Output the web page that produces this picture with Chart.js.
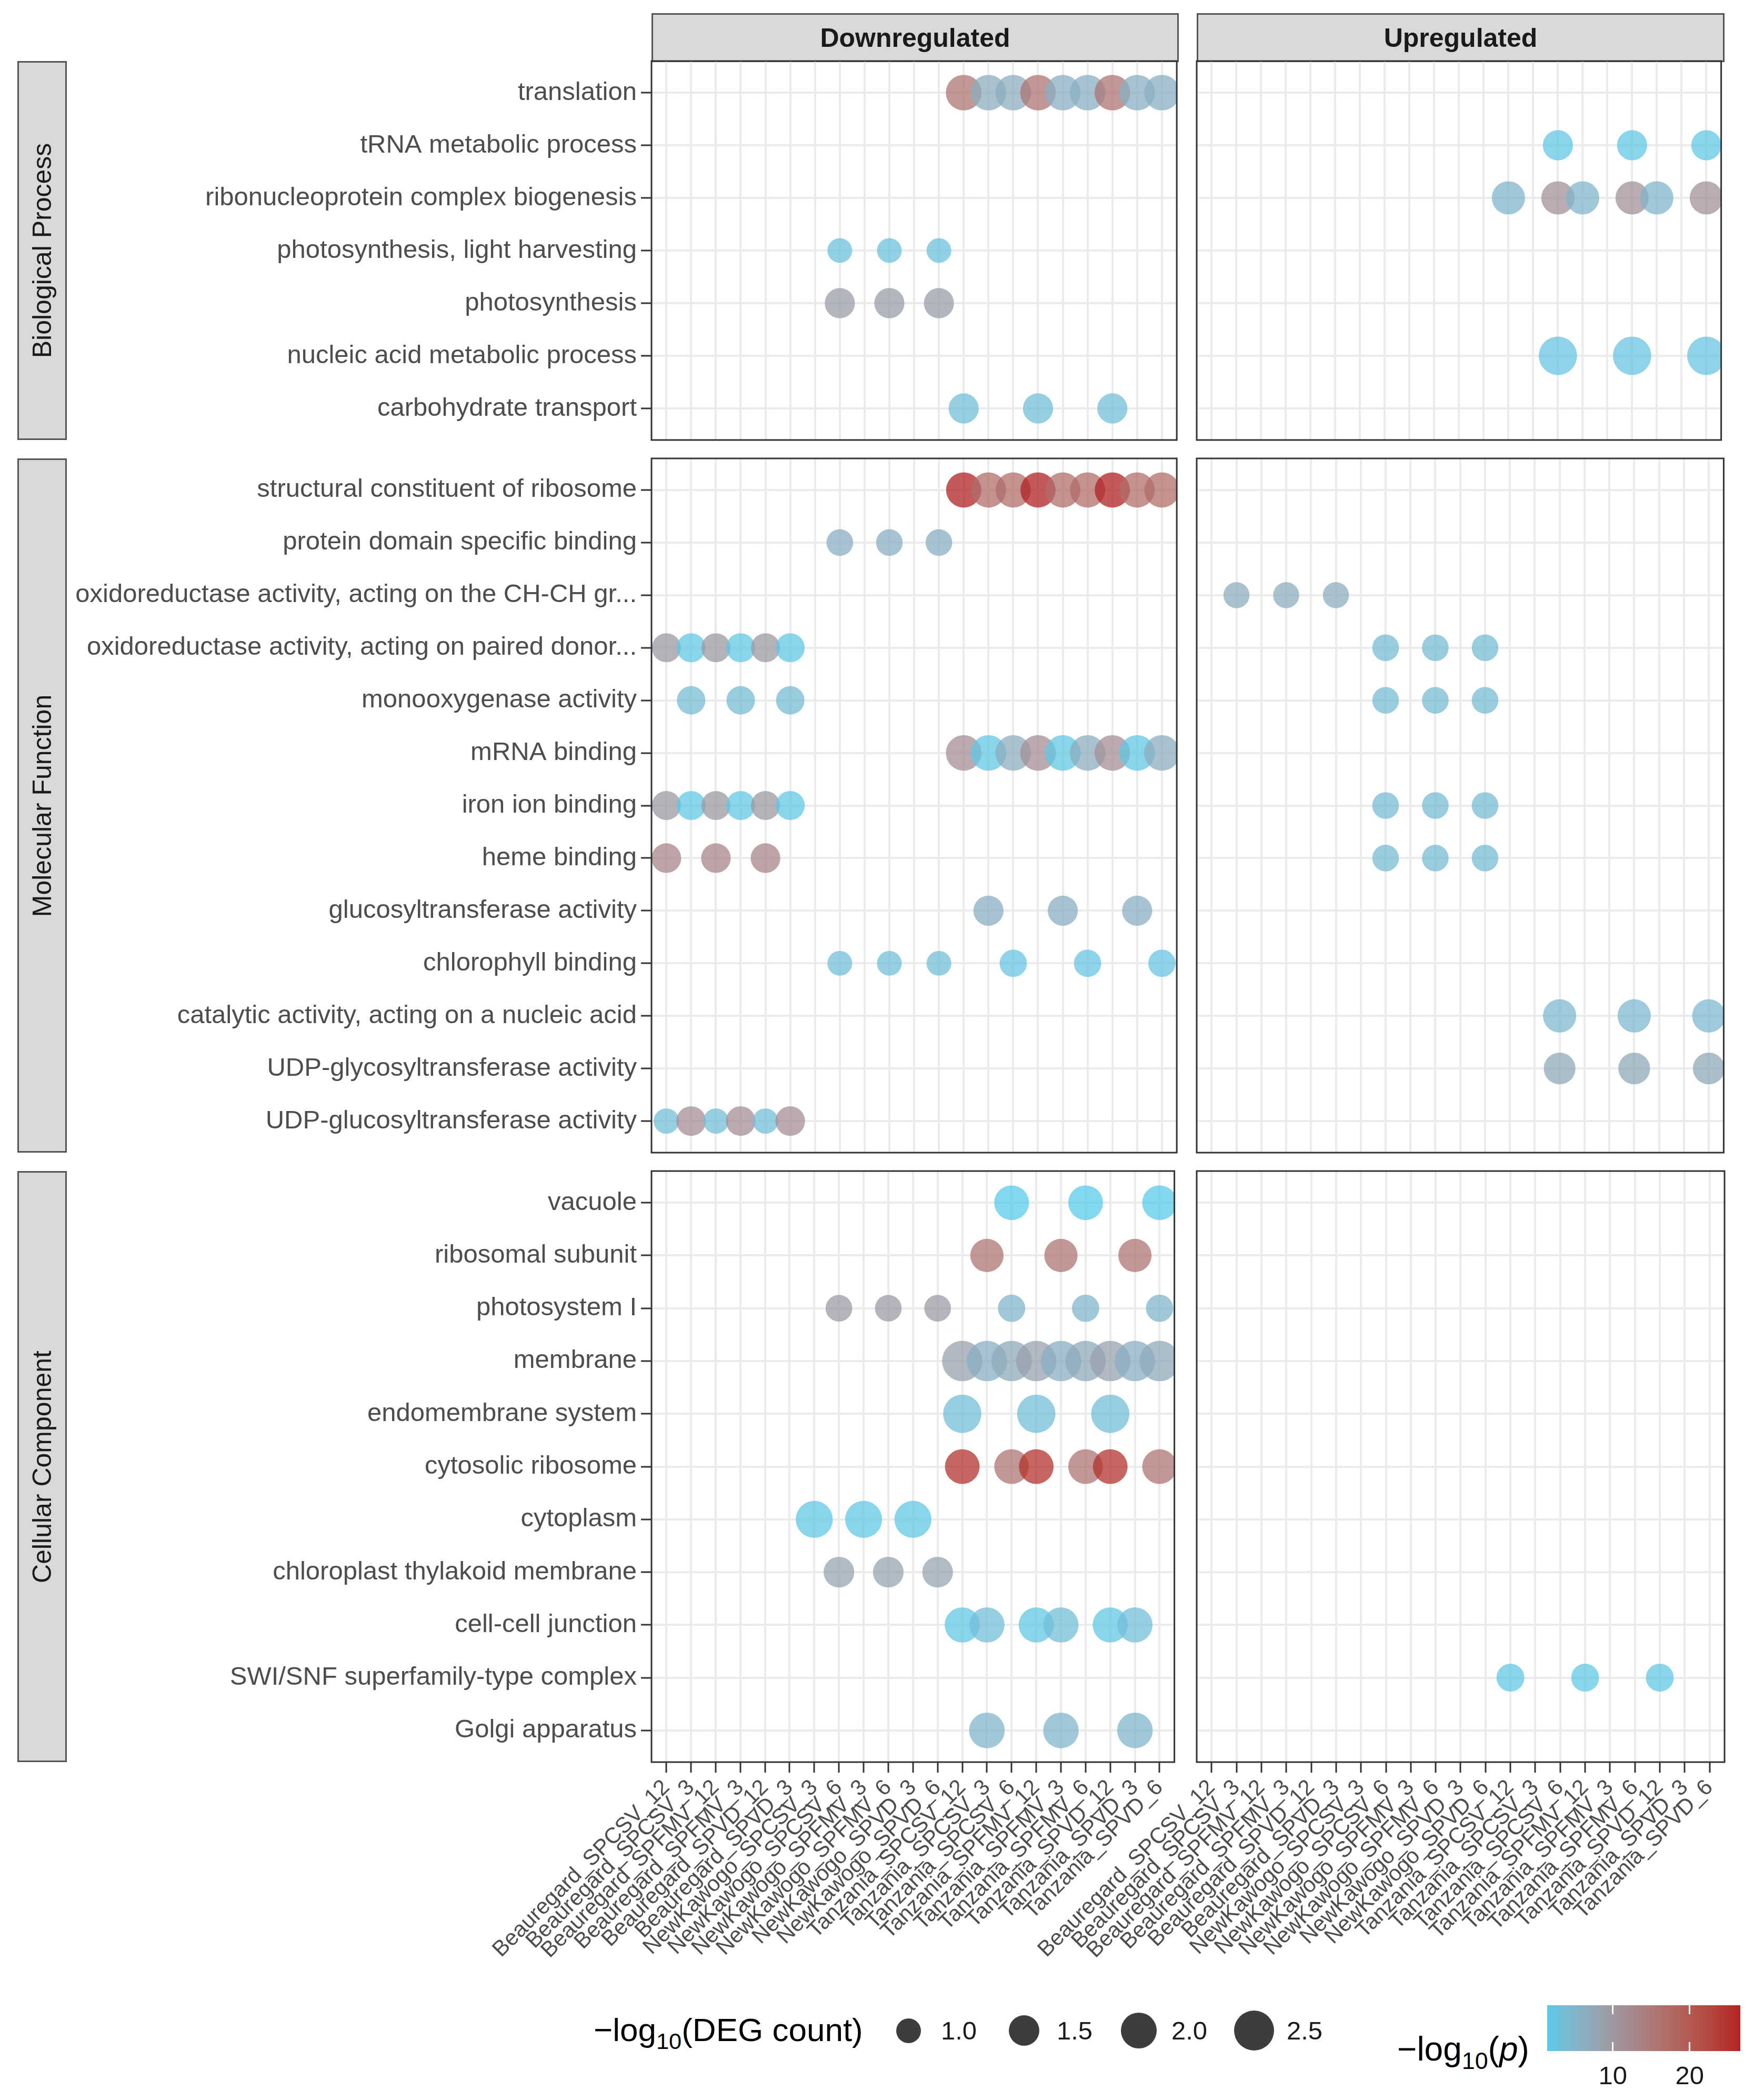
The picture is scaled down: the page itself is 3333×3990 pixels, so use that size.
<!DOCTYPE html>
<html>
<head>
<meta charset="utf-8">
<script src="https://cdn.jsdelivr.net/npm/chart.js@4.4.1/dist/chart.umd.min.js"></script>
<style>
  body { margin: 0; background: #fff; }
  #page { position: relative; width: 3333px; height: 3990px; font-family: "Liberation Sans", Arial, sans-serif; overflow: hidden; }
  .strip { position: absolute; background: #d9d9d9; border: 3px solid #555; box-sizing: border-box; display: flex; align-items: center; justify-content: center; color: #1a1a1a; font-size: 50px; }
  .strip.col { font-weight: bold; }
  .strip.row span { transform: rotate(-90deg); white-space: nowrap; }
  .lg { position: absolute; white-space: nowrap; color: #000; }
  sub { font-size: 0.7em; vertical-align: -0.35em; }
</style>
</head>
<body>
<div id="page"></div>
<script>
const samples = [
    "Beauregard_SPCSV_12", "Beauregard_SPCSV_3", "Beauregard_SPFMV_12", "Beauregard_SPFMV_3",
    "Beauregard_SPVD_12", "Beauregard_SPVD_3", "NewKawogo_SPCSV_3", "NewKawogo_SPCSV_6",
    "NewKawogo_SPFMV_3", "NewKawogo_SPFMV_6", "NewKawogo_SPVD_3", "NewKawogo_SPVD_6",
    "Tanzania_SPCSV_12", "Tanzania_SPCSV_3", "Tanzania_SPCSV_6", "Tanzania_SPFMV_12",
    "Tanzania_SPFMV_3", "Tanzania_SPFMV_6", "Tanzania_SPVD_12", "Tanzania_SPVD_3", "Tanzania_SPVD_6"
];

const bpTerms = [
    "translation", "tRNA metabolic process", "ribonucleoprotein complex biogenesis",
    "photosynthesis, light harvesting", "photosynthesis", "nucleic acid metabolic process",
    "carbohydrate transport"
];
const mfTerms = [
    "structural constituent of ribosome", "protein domain specific binding",
    "oxidoreductase activity, acting on the CH-CH gr...", "oxidoreductase activity, acting on paired donor...",
    "monooxygenase activity", "mRNA binding", "iron ion binding", "heme binding",
    "glucosyltransferase activity", "chlorophyll binding", "catalytic activity, acting on a nucleic acid",
    "UDP-glycosyltransferase activity", "UDP-glucosyltransferase activity"
];
const ccTerms = [
    "vacuole", "ribosomal subunit", "photosystem I", "membrane", "endomembrane system",
    "cytosolic ribosome", "cytoplasm", "chloroplast thylakoid membrane", "cell-cell junction",
    "SWI/SNF superfamily-type complex", "Golgi apparatus"
];

// [term index, sample index, -log10(DEG count), -log10(p)]
const bpDown = [
    [0,12,2.0,16],[0,13,2.0,6.5],[0,14,2.0,6.5],[0,15,2.0,16],[0,16,2.0,6],[0,17,2.0,6],[0,18,2.0,16],[0,19,2.0,6],[0,20,2.0,6],
    [3,7,1.0,3],[3,9,1.0,3],[3,11,1.0,3],
    [4,7,1.45,9],[4,9,1.45,9],[4,11,1.45,9],
    [6,12,1.45,3.5],[6,15,1.45,3.5],[6,18,1.45,3.5]
];
const bpUp = [
    [1,14,1.45,2],[1,17,1.45,2],[1,20,1.45,2],
    [2,12,1.75,5],[2,14,1.75,11],[2,15,1.75,5],[2,17,1.75,11],[2,18,1.75,5],[2,20,1.75,11],
    [5,14,2.3,2.5],[5,17,2.3,2.5],[5,20,2.3,2.5]
];
const mfDown = [
    [0,12,1.95,26.6],[0,13,1.95,17],[0,14,1.95,17],[0,15,1.95,26.6],[0,16,1.95,17],[0,17,1.95,17],[0,18,1.95,26.6],[0,19,1.95,17],[0,20,1.95,17],
    [1,7,1.15,6],[1,9,1.15,6],[1,11,1.15,6],
    [3,0,1.35,10],[3,1,1.35,2],[3,2,1.35,10],[3,3,1.35,2],[3,4,1.35,10],[3,5,1.35,2],
    [4,1,1.3,4],[4,3,1.3,4],[4,5,1.3,4],
    [5,12,2.0,11.5],[5,13,2.0,2],[5,14,2.0,6.5],[5,15,2.0,11.5],[5,16,2.0,2],[5,17,2.0,6.5],[5,18,2.0,11.5],[5,19,2.0,2],[5,20,2.0,6.5],
    [6,0,1.35,10],[6,1,1.35,2],[6,2,1.35,10],[6,3,1.35,2],[6,4,1.35,10],[6,5,1.35,2],
    [7,0,1.4,13],[7,2,1.4,13],[7,4,1.4,13],
    [8,13,1.45,6],[8,16,1.45,6],[8,19,1.45,6],
    [9,7,1.0,3.5],[9,9,1.0,3.5],[9,11,1.0,3.5],[9,14,1.2,2.5],[9,17,1.2,2.5],[9,20,1.2,2.5],
    [12,0,1.05,3.5],[12,1,1.4,11.5],[12,2,1.05,3.5],[12,3,1.4,11.5],[12,4,1.05,3.5],[12,5,1.4,11.5]
];
const mfUp = [
    [2,1,1.1,6.5],[2,3,1.1,6.5],[2,5,1.1,6.5],
    [3,7,1.15,4],[3,9,1.15,4],[3,11,1.15,4],
    [4,7,1.15,4],[4,9,1.15,4],[4,11,1.15,4],
    [6,7,1.15,4],[6,9,1.15,4],[6,11,1.15,4],
    [7,7,1.15,4],[7,9,1.15,4],[7,11,1.15,4],
    [10,14,1.75,4.5],[10,17,1.75,4.5],[10,20,1.75,4.5],
    [11,14,1.6,7],[11,17,1.6,7],[11,20,1.6,7]
];
const ccDown = [
    [0,14,1.9,1.5],[0,17,1.9,1.5],[0,20,1.9,1.5],
    [1,13,1.75,16],[1,16,1.75,16],[1,19,1.75,16],
    [2,7,1.15,9.5],[2,9,1.15,9.5],[2,11,1.15,9.5],[2,14,1.2,5],[2,17,1.2,5],[2,20,1.2,5],
    [3,12,2.55,8.5],[3,13,2.55,6],[3,14,2.55,7],[3,15,2.55,8.5],[3,16,2.55,6],[3,17,2.55,7],[3,18,2.55,8.5],[3,19,2.55,6],[3,20,2.55,7],
    [4,12,2.3,3.5],[4,15,2.3,3.5],[4,18,2.3,3.5],
    [5,12,1.9,25],[5,14,1.9,16],[5,15,1.9,25],[5,17,1.9,16],[5,18,1.9,25],[5,20,1.9,16],
    [6,6,2.15,2],[6,8,2.15,2],[6,10,2.15,2],
    [7,7,1.5,8],[7,9,1.5,8],[7,11,1.5,8],
    [8,12,1.95,2],[8,13,1.95,3.5],[8,15,1.95,2],[8,16,1.95,3.5],[8,18,1.95,2],[8,19,1.95,3.5],
    [10,13,2.0,5],[10,16,2.0,5],[10,19,2.0,5]
];
const ccUp = [
    [9,12,1.25,2],[9,15,1.25,2],[9,18,1.25,2]
];

const sizeBreaks = [1.0, 1.5, 2.0, 2.5];
const colorBreaks = [10, 20];
const pLimits = [1.44, 26.6];
const lowColor = [88, 202, 234];
const highColor = [178, 34, 34];

const FONT = '"Liberation Sans", Arial, sans-serif';
const page = document.getElementById('page');

// panel geometry
const colX = [1238, 2274], colW = [1002, 1003];
const rowY = [116, 871, 2225], rowH = [720, 1319, 1123];
const xAxisH = 430;

// colour scale, interpolated in Lab like ggplot
function toLin(c) { c /= 255; return c <= 0.04045 ? c / 12.92 : Math.pow((c + 0.055) / 1.055, 2.4); }
function fromLin(c) {
    c = c <= 0.0031308 ? 12.92 * c : 1.055 * Math.pow(c, 1 / 2.4) - 0.055;
    return Math.round(Math.max(0, Math.min(1, c)) * 255);
}
function rgbToLab(rgb) {
    const R = toLin(rgb[0]), G = toLin(rgb[1]), B = toLin(rgb[2]);
    const X = (0.4124 * R + 0.3576 * G + 0.1805 * B) / 0.95047;
    const Y = 0.2126 * R + 0.7152 * G + 0.0722 * B;
    const Z = (0.0193 * R + 0.1192 * G + 0.9505 * B) / 1.08883;
    const f = t => t > 0.008856 ? Math.cbrt(t) : 7.787 * t + 16 / 116;
    return [116 * f(Y) - 16, 500 * (f(X) - f(Y)), 200 * (f(Y) - f(Z))];
}
function labToRgb(lab) {
    const fy = (lab[0] + 16) / 116, fx = fy + lab[1] / 500, fz = fy - lab[2] / 200;
    const inv = t => t * t * t > 0.008856 ? t * t * t : (t - 16 / 116) / 7.787;
    const X = inv(fx) * 0.95047, Y = inv(fy), Z = inv(fz) * 1.08883;
    return [
        fromLin(3.2406 * X - 1.5372 * Y - 0.4986 * Z),
        fromLin(-0.9689 * X + 1.8758 * Y + 0.0415 * Z),
        fromLin(0.0557 * X - 0.2040 * Y + 1.0570 * Z)
    ];
}
const lowLab = rgbToLab(lowColor), highLab = rgbToLab(highColor);
function pColor(p, alpha) {
    const t = Math.max(0, Math.min(1, (p - pLimits[0]) / (pLimits[1] - pLimits[0])));
    const c = labToRgb(lowLab.map((v, i) => v + (highLab[i] - v) * t));
    return `rgba(${c[0]},${c[1]},${c[2]},${alpha})`;
}

// size scale (area linear in value)
function diameter(v) { return Math.sqrt(Math.max(2378 * v - 169, 4)); }

const panelBorder = {
    id: 'panelBorder',
    afterDatasetsDraw(chart) {
        const a = chart.chartArea, c = chart.ctx;
        c.save();
        c.strokeStyle = '#333';
        c.lineWidth = 3;
        c.strokeRect(a.left, a.top, a.right - a.left, a.bottom - a.top);
        c.restore();
    }
};

function makePanel(terms, dots, col, row, isBottom) {
    const left = col === 0;
    const axisW = left ? colX[0] : 420;
    // room above/below so the y tick label padding does not shrink the panel
    const padT = 40, padR = 30, padB = isBottom ? 0 : 40;
    const w = axisW + colW[col] + padR;
    const h = padT + rowH[row] + (isBottom ? xAxisH : padB);
    const cv = document.createElement('canvas');
    cv.width = w;
    cv.height = h;
    cv.style.cssText = `position:absolute;left:${colX[col] - axisW}px;top:${rowY[row] - padT}px;width:${w}px;height:${h}px`;
    page.appendChild(cv);

    new Chart(cv.getContext('2d'), {
        type: 'scatter',
        data: {
            datasets: [{
                data: dots.map(d => ({ x: d[1], y: d[0], s: d[2], p: d[3] })),
                pointRadius: c => diameter(c.raw.s) / 2,
                pointBackgroundColor: c => pColor(c.raw.p, 0.75),
                pointBorderWidth: 0,
                pointBorderColor: 'rgba(0,0,0,0)',
                clip: 0
            }]
        },
        options: {
            responsive: false,
            devicePixelRatio: 1,
            animation: false,
            events: [],
            layout: { padding: { top: padT, right: padR, bottom: padB, left: 0 } },
            plugins: { legend: { display: false }, tooltip: { enabled: false } },
            scales: {
                x: {
                    type: 'linear', bounds: 'data',
                    min: -0.6, max: samples.length - 0.4,
                    afterBuildTicks: s => { s.ticks = samples.map((_, i) => ({ value: i })); },
                    afterFit: s => { s.height = isBottom ? xAxisH : 0; },
                    ticks: {
                        display: isBottom, autoSkip: false, minRotation: 45, maxRotation: 45,
                        callback: v => samples[v], color: '#4d4d4d', padding: 4,
                        font: { family: FONT, size: 42 }
                    },
                    grid: { color: '#ebebeb', lineWidth: 4, drawTicks: isBottom, tickLength: 20, tickColor: '#333', tickWidth: 3 },
                    border: { display: false }
                },
                y: {
                    type: 'linear', bounds: 'data', reverse: true,
                    min: -0.6, max: terms.length - 0.4,
                    afterBuildTicks: s => { s.ticks = terms.map((_, i) => ({ value: i })); },
                    afterFit: s => { s.width = axisW; },
                    ticks: {
                        display: left, autoSkip: false,
                        callback: v => terms[v], color: '#4d4d4d', padding: 8,
                        font: { family: FONT, size: 49 }
                    },
                    grid: { color: '#ebebeb', lineWidth: 4, drawTicks: left, tickLength: 20, tickColor: '#333', tickWidth: 3 },
                    border: { display: false }
                }
            }
        },
        plugins: [panelBorder]
    });
}

function addDiv(cls, html, css) {
    const d = document.createElement('div');
    d.className = cls;
    d.innerHTML = html;
    d.style.cssText = css;
    page.appendChild(d);
    return d;
}

// facet strips
const colTitles = ["Downregulated", "Upregulated"];
colTitles.forEach((t, i) => {
    addDiv('strip col', t, `left:${colX[i]}px;top:25px;width:${colW[i]}px;height:93px`);
});
const rowTitles = ["Biological Process", "Molecular Function", "Cellular Component"];
rowTitles.forEach((t, i) => {
    addDiv('strip row', `<span>${t}</span>`, `left:33px;top:${rowY[i]}px;width:94px;height:${rowH[i]}px`);
});

makePanel(bpTerms, bpDown, 0, 0, false);
makePanel(bpTerms, bpUp, 1, 0, false);
makePanel(mfTerms, mfDown, 0, 1, false);
makePanel(mfTerms, mfUp, 1, 1, false);
makePanel(ccTerms, ccDown, 0, 2, true);
makePanel(ccTerms, ccUp, 1, 2, true);

// size legend
const legY = 3858;
addDiv('lg', '−log<sub>10</sub>(DEG count)', `left:1128px;top:${legY - 40}px;font-size:62px;line-height:78px`);
const legX = [1726, 1946, 2164, 2383];
sizeBreaks.forEach((v, i) => {
    const d = diameter(v);
    addDiv('lg', '', `left:${legX[i] - d / 2}px;top:${legY - d / 2}px;width:${d}px;height:${d}px;border-radius:50%;background:rgba(40,40,40,0.9)`);
    addDiv('lg', v.toFixed(1), `left:${legX[i] + 62}px;top:${legY - 28}px;font-size:49px;line-height:56px;color:#1a1a1a`);
});

// colour bar legend
const barX = 2940, barW = 367, barY = 3810, barH = 87;
addDiv('lg', '−log<sub>10</sub>(<i>p</i>)', `left:2655px;top:${3894 - 42}px;font-size:64px;line-height:82px`);
const stops = [];
for (let i = 0; i <= 30; i++) {
    const p = pLimits[0] + (pLimits[1] - pLimits[0]) * i / 30;
    stops.push(`${pColor(p, 1)} ${(i / 30 * 100).toFixed(2)}%`);
}
addDiv('lg', '', `left:${barX}px;top:${barY}px;width:${barW}px;height:${barH}px;background:linear-gradient(to right, ${stops.join(',')})`);
colorBreaks.forEach(v => {
    const x = barX + (v - pLimits[0]) / (pLimits[1] - pLimits[0]) * barW;
    addDiv('lg', '', `left:${x - 1.5}px;top:${barY}px;width:3px;height:${barH / 5}px;background:#fff`);
    addDiv('lg', '', `left:${x - 1.5}px;top:${barY + barH - barH / 5}px;width:3px;height:${barH / 5}px;background:#fff`);
    addDiv('lg', String(v), `left:${x - 60}px;top:${barY + barH + 18}px;width:120px;text-align:center;font-size:49px;line-height:56px;color:#1a1a1a`);
});
</script>
</body>
</html>
